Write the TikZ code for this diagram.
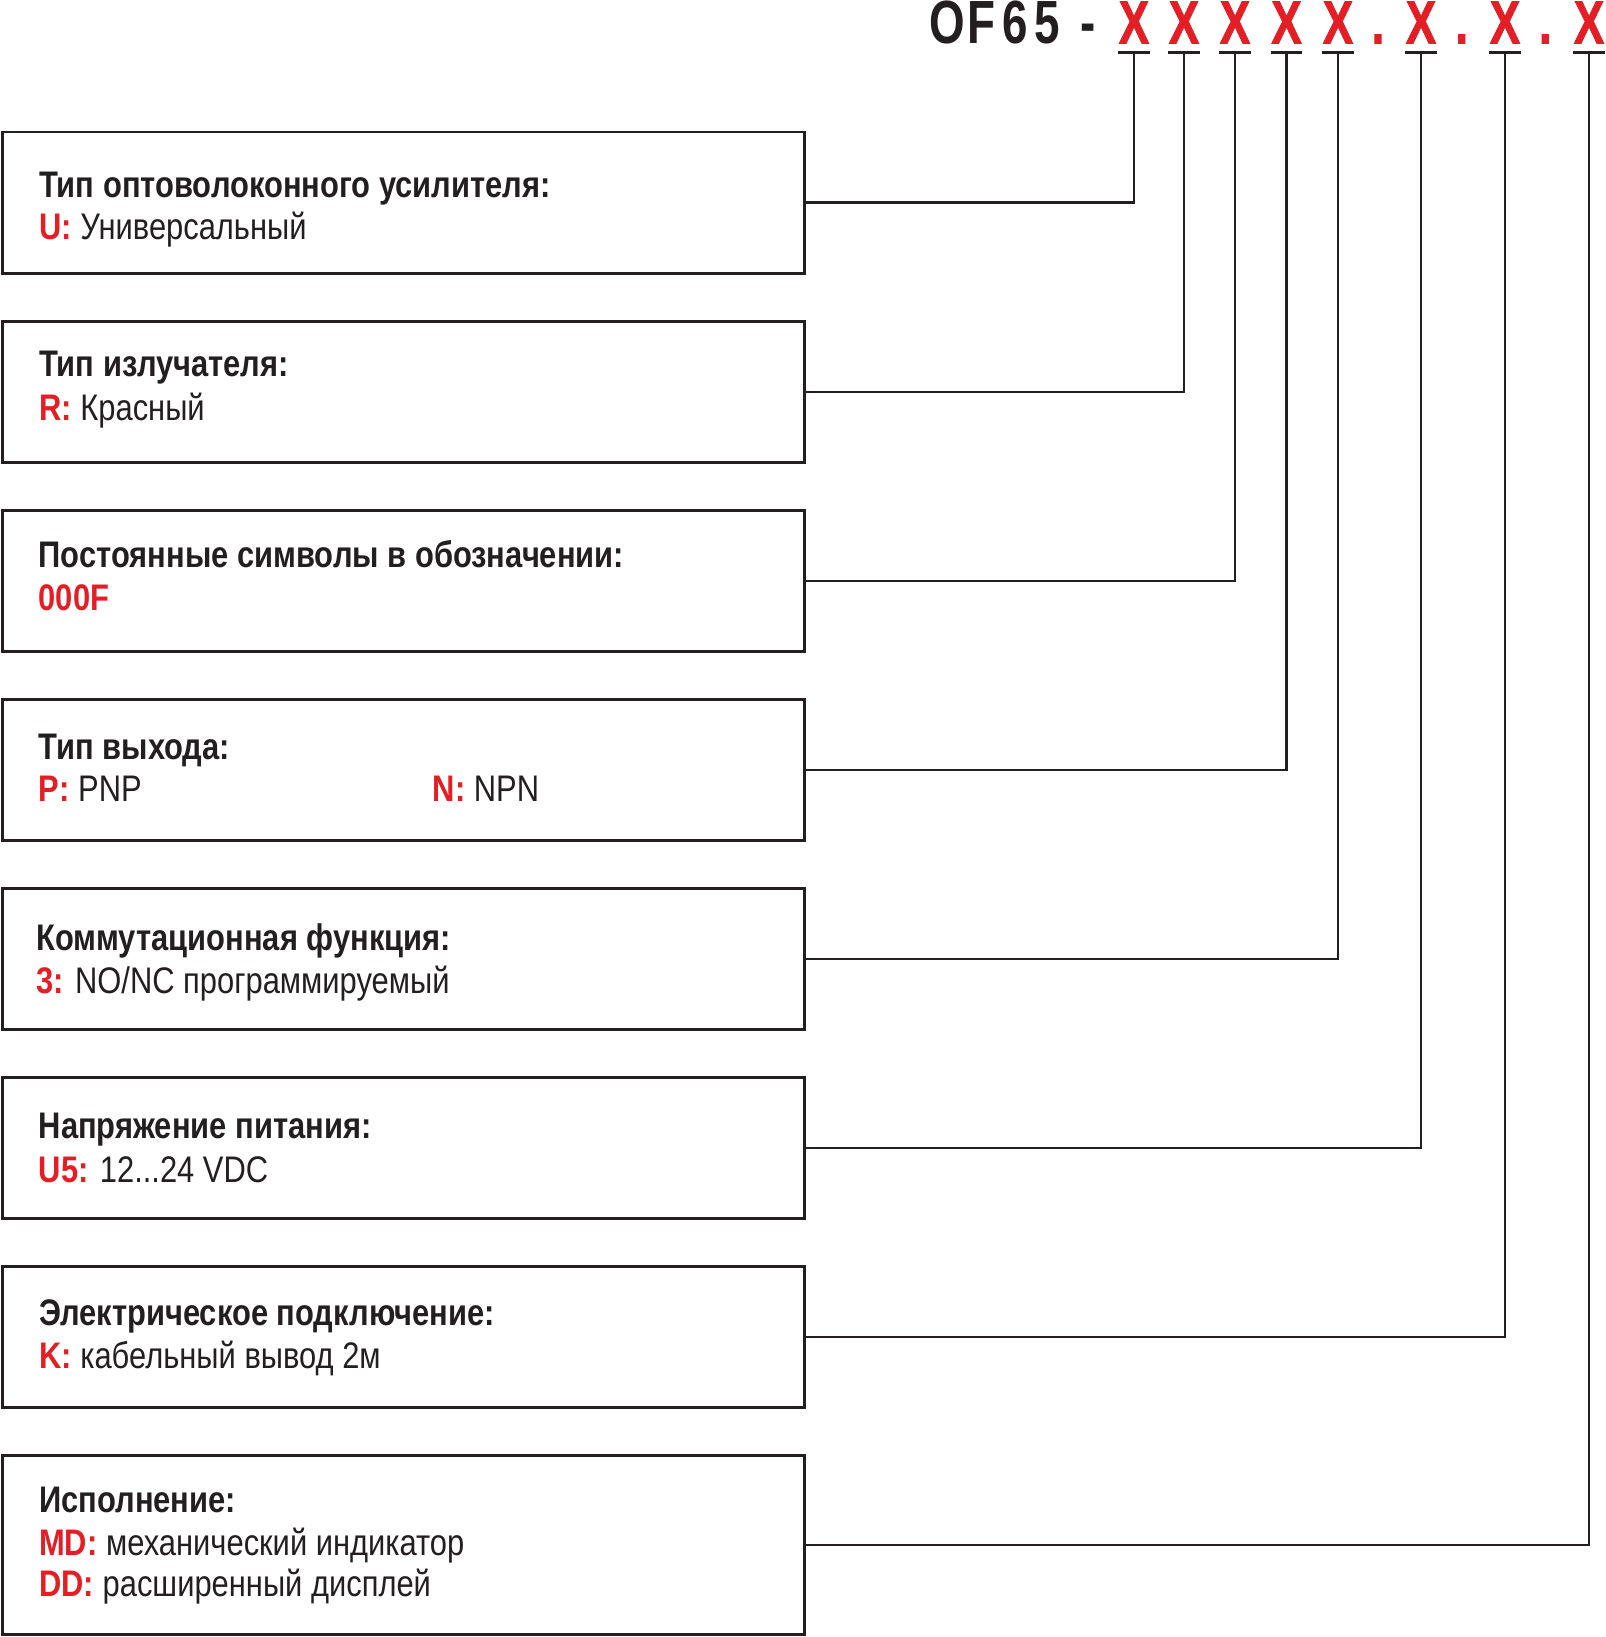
\documentclass[tikz,border=0pt]{standalone}
\usepackage{fontspec}
\setmainfont{Liberation Sans}[FakeStretch=0.835]
\newfontfamily\headfont{Liberation Sans}[FakeStretch=0.75]
\newfontfamily\headfontx{Liberation Sans}[FakeStretch=0.75,FakeBold=1.2]
\usetikzlibrary{positioning,calc}
\definecolor{InkGray}{RGB}{35,31,32}
\definecolor{CodeRed}{RGB}{228,30,37}
\tikzset{
  box/.style={draw=InkGray,line width=2.6pt,minimum width=802pt,minimum height=141pt,
    anchor=north west,inner sep=0pt,outer sep=0pt},
  link/.style={draw=InkGray,line width=2.4pt},
  bar/.style={draw=InkGray,line width=2.6pt},
  head/.style={font=\headfont\fontsize{61}{61}\selectfont\bfseries,text=InkGray,
    anchor=base,inner sep=0pt},
  headx/.style={head,font=\headfontx\fontsize{61}{61}\selectfont\bfseries,text=CodeRed},
  title/.style={font=\fontsize{37}{42}\selectfont\bfseries,text=InkGray,
    anchor=base west,inner sep=0pt},
  value/.style={font=\fontsize{37}{42}\selectfont,text=InkGray,
    anchor=base west,inner sep=0pt}
}
\newcommand{\code}[1]{\textcolor{CodeRed}{\bfseries #1}}

\begin{document}
\begin{tikzpicture}[x=1pt,y=-1pt]
  \useasboundingbox (0,0) rectangle (1605,1637);
  % order code
  \foreach \ch/\xc [count=\k] in {O/946.8,F/981.5,6/1015,5/1047.7,-/1088.5}
    \node[head] (h\k) at (\xc,43.5) {\ch};
  \foreach \xc [count=\i] in {1134,1184,1235,1286.5,1338,1421,1505,1589} {
    \node[headx] (x\i) at (\xc,43.5) {X};
    \coordinate (bar\i) at (\xc,52.3);
    \draw[bar] ($(bar\i)+(-15.6,0)$) -- ++(31.2,0);
  }
  \foreach \xc [count=\k] in {1378,1461.7,1545.3}
    \node[headx] (d\k) at (\xc,43.5) {.};

  % boxes
  \foreach \i in {1,...,7}
    \node[box] (b\i) at (2.5,{132.2+189*(\i-1)}) {};
  \node[box,minimum height=179pt] (b8) at (2.5,1455.2) {};

  \node[title] (t1) at ($(b1.north west)+(36.5,65.1)$) {Тип оптоволоконного усилителя:};
  \node[value] (v1) at ($(b1.north west)+(36.5,107.1)$) {\code{U:} Универсальный};

  \node[title] (t2) at ($(b2.north west)+(36.5,55.5)$) {Тип излучателя:};
  \node[value] (v2) at ($(b2.north west)+(36.5,99)$) {\code{R:} Красный};

  \node[title] (t3) at ($(b3.north west)+(36,57.5)$) {Постоянные символы в обозначении:};
  \node[value] (v3) at ($(b3.north west)+(36,100)$) {\code{000F}};

  \node[title] (t4) at ($(b4.north west)+(36,59.8)$) {Тип выхода:};
  \node[value] (v4) at ($(b4.north west)+(36,102.5)$) {\code{P:} PNP};
  \node[value] (v4b) at ($(b4.north west)+(430,102.5)$) {\code{N:} NPN};

  \node[title] (t5) at ($(b5.north west)+(33.5,62.3)$) {Коммутационная функция:};
  \node[value] (v5) at ($(b5.north west)+(33.5,105.6)$) {\code{3:} NO/NC программируемый};

  \node[title] (t6) at ($(b6.north west)+(36,61.6)$) {Напряжение питания:};
  \node[value] (v6) at ($(b6.north west)+(36,105)$) {\code{U5:} 12...24 VDC};

  \node[title] (t7) at ($(b7.north west)+(36.5,59)$) {Электрическое подключение:};
  \node[value] (v7) at ($(b7.north west)+(36.5,102.3)$) {\code{K:} кабельный вывод 2м};

  \node[title] (t8) at ($(b8.north west)+(36.5,57.7)$) {Исполнение:};
  \node[value] (v8) at ($(b8.north west)+(36.5,100)$) {\code{MD:} механический индикатор};
  \node[value] (v8b) at ($(b8.north west)+(36.5,141.7)$) {\code{DD:} расширенный дисплей};

  % connectors
  \foreach \i in {1,...,8}
    \draw[link] (b\i.east) -| (bar\i);
\end{tikzpicture}
\end{document}
